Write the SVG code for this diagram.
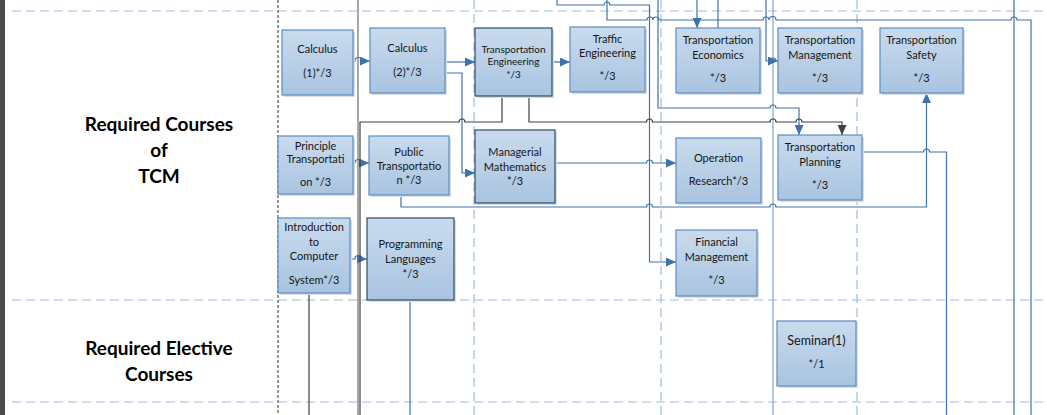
<svg xmlns="http://www.w3.org/2000/svg" width="1047" height="415" viewBox="0 0 1047 415">
<defs>
<linearGradient id="g" x1="0" y1="0" x2="0" y2="1">
<stop offset="0" stop-color="#c9dbee"/>
<stop offset="1" stop-color="#a9c4e0"/>
</linearGradient>
<marker id="ab" markerUnits="userSpaceOnUse" markerWidth="11" markerHeight="9" refX="10" refY="4.5" orient="auto">
<path d="M0,0 L10,4.5 L0,9 z" fill="#3f72ad"/>
</marker>
<marker id="ad" markerUnits="userSpaceOnUse" markerWidth="11" markerHeight="9" refX="10" refY="4.5" orient="auto">
<path d="M0,0 L10,4.5 L0,9 z" fill="#404040"/>
</marker>
</defs>
<style>
.lane{stroke:#9dbde0;stroke-width:1.2;stroke-dasharray:9,5;fill:none}
.laned{stroke:#444;stroke-width:1.1;stroke-dasharray:3,2;fill:none}
.box{fill:url(#g);stroke:#5b8cc2;stroke-width:1.2}
.boxd{fill:url(#g);stroke:#2e4c6c;stroke-width:1.2}
.sh{fill:#dadde1}
.t{font-family:Lato,"Open Sans","Liberation Sans",sans-serif;font-size:11px;fill:#151515;text-anchor:middle}
.ts{font-size:10px}
.tl{font-size:12.5px}
.h{font-family:Lato,"Open Sans","Liberation Sans",sans-serif;font-size:19px;font-weight:bold;fill:#000;text-anchor:middle}
.cb{stroke:#3f72ad;stroke-width:1.2;fill:none}
.cd{stroke:#404040;stroke-width:1.2;fill:none}
.cg{stroke:#6e6e6e;stroke-width:1.2;fill:none}
.cl{stroke:#7fa7d3;stroke-width:1.2;fill:none}
</style>
<rect x="0" y="0" width="1047" height="415" fill="#fff"/>
<rect x="0" y="0" width="5" height="415" fill="#4a4a4a"/>
<g id="lanes">
<path class="lane" d="M12,11 H1047 M12,300 H1047 M12,402 H1047"/>
<path class="lane" d="M474,0 V415 M661,0 V415 M857,0 V415"/>
<path class="laned" d="M278,0 V415"/>
</g>
<g id="headings">
<text class="h" x="159" y="130.5">Required Courses</text>
<text class="h" x="159" y="156.5">of</text>
<text class="h" x="159" y="182.5">TCM</text>
<text class="h" x="159" y="354.5">Required Elective</text>
<text class="h" x="159" y="381">Courses</text>
</g>
<g id="connectors">
<path class="cg" d="M358,0 V415"/>
<path class="cl" d="M773,0 V415"/>
<path class="cb" d="M1014,0 V415"/>
<path class="cb" d="M557,0 V5 H604 A3,3 0 0 1 610,5 H649.5 V262 H676" marker-end="url(#ab)"/>
<path class="cb" d="M607,0 V20 H647 A3,3 0 0 1 653,20 A3,3 0 0 1 659,20 H763 A3,3 0 0 1 769,20 A3,3 0 0 1 776,20 H1011 A3,3 0 0 1 1017,20 H1031 V415"/>
<path class="cb" d="M697,0 V28" marker-end="url(#ab)"/>
<path class="cb" d="M718,0 V28"/>
<path class="cb" d="M766,0 V61 H770 A3,3 0 0 1 776,61 H778" marker-end="url(#ab)"/>
<path class="cb" d="M658,0 V108 H770 A3,3 0 0 1 776,108 H799 V135" marker-end="url(#ab)"/>
<path class="cb" d="M353,61 H355 A3.5,3.5 0 0 1 362,61 H370" marker-end="url(#ab)"/>
<path class="cb" d="M445,62 H475" marker-end="url(#ab)"/>
<path class="cb" d="M445,73 H462 V173 H475" marker-end="url(#ab)"/>
<path class="cb" d="M552,62 H570" marker-end="url(#ab)"/>
<path class="cb" d="M353,163 H355 A3.5,3.5 0 0 1 362,163 H369" marker-end="url(#ab)"/>
<path class="cb" d="M350,259 H355 A3.5,3.5 0 0 1 362,259 H367" marker-end="url(#ab)"/>
<path class="cb" d="M555,163 H646.5 A3,3 0 0 1 652.5,163 H676" marker-end="url(#ab)"/>
<path class="cb" d="M401,195 V207 H646.5 A3,3 0 0 1 652.5,207 H770 A3,3 0 0 1 776,207 H926.5 V93" marker-end="url(#ab)"/>
<path class="cb" d="M862,152 H923.5 A3,3 0 0 1 929.5,152 H946.5 V415"/>
<path class="cb" d="M410,300 V415"/>
<path class="cd" d="M502,96 V122 H465 A3,3 0 0 0 459,122 H360 V415"/>
<path class="cd" d="M529,96 V122 H646.5 A3,3 0 0 1 652.5,122 H770 A3,3 0 0 1 776,122 H796 A3,3 0 0 1 802,122 H842 V135" marker-end="url(#ad)"/>
<path class="cd" d="M309,293 V415"/>
</g>
<g id="calculus1"><rect class="sh" x="284" y="32" width="71" height="65"/><rect class="box" x="282" y="30" width="71" height="65"/><text class="t" x="317.5" y="53">Calculus</text><text class="t" x="317.5" y="77">(1)*/3</text></g>
<g id="calculus2"><rect class="sh" x="372" y="30" width="75" height="65"/><rect class="box" x="370" y="28" width="75" height="65"/><text class="t" x="407.5" y="52">Calculus</text><text class="t" x="407.5" y="76">(2)*/3</text></g>
<g id="transportation-engineering"><rect class="sh" x="477" y="30" width="77" height="68"/><rect class="boxd" x="475" y="28" width="77" height="68"/><text class="t ts" x="513.5" y="52.5">Transportation</text><text class="t ts" x="513.5" y="65">Engineering</text><text class="t ts" x="513.5" y="77.5">*/3</text></g>
<g id="traffic-engineering"><rect class="sh" x="572" y="29" width="75" height="65"/><rect class="box" x="570" y="27" width="75" height="65"/><text class="t" x="607.5" y="43">Traffic</text><text class="t" x="607.5" y="57">Engineering</text><text class="t" x="607.5" y="80">*/3</text></g>
<g id="transportation-economics"><rect class="sh" x="678" y="30" width="84" height="65"/><rect class="box" x="676" y="28" width="84" height="65"/><text class="t" x="718" y="44">Transportation</text><text class="t" x="718" y="59">Economics</text><text class="t" x="718" y="82">*/3</text></g>
<g id="transportation-management"><rect class="sh" x="780" y="30" width="84" height="65"/><rect class="box" x="778" y="28" width="84" height="65"/><text class="t" x="820" y="44">Transportation</text><text class="t" x="820" y="59">Management</text><text class="t" x="820" y="82">*/3</text></g>
<g id="transportation-safety"><rect class="sh" x="882" y="30" width="83" height="65"/><rect class="box" x="880" y="28" width="83" height="65"/><text class="t" x="921.5" y="44">Transportation</text><text class="t" x="921.5" y="59">Safety</text><text class="t" x="921.5" y="82">*/3</text></g>
<g id="principle-transportation"><rect class="sh" x="280" y="138" width="75" height="58"/><rect class="box" x="278" y="136" width="75" height="58"/><text class="t" x="315.5" y="149.5">Principle</text><text class="t" x="315.5" y="163">Transportati</text><text class="t" x="315.5" y="186">on */3</text></g>
<g id="public-transportation"><rect class="sh" x="371" y="138" width="80" height="59"/><rect class="box" x="369" y="136" width="80" height="59"/><text class="t" x="409" y="155.5">Public</text><text class="t" x="409" y="170">Transportatio</text><text class="t" x="409" y="184">n */3</text></g>
<g id="managerial-mathematics"><rect class="sh" x="477" y="132" width="80" height="73"/><rect class="boxd" x="475" y="130" width="80" height="73"/><text class="t" x="515" y="156">Managerial</text><text class="t" x="515" y="171">Mathematics</text><text class="t" x="515" y="185">*/3</text></g>
<g id="operation-research"><rect class="sh" x="678" y="140" width="85" height="65"/><rect class="box" x="676" y="138" width="85" height="65"/><text class="t" x="718.5" y="162">Operation</text><text class="t" x="718.5" y="185">Research*/3</text></g>
<g id="transportation-planning"><rect class="sh" x="780" y="137" width="84" height="65"/><rect class="box" x="778" y="135" width="84" height="65"/><text class="t" x="820" y="151">Transportation</text><text class="t" x="820" y="166">Planning</text><text class="t" x="820" y="188.5">*/3</text></g>
<g id="introduction-computer"><rect class="sh" x="280" y="220" width="72" height="75"/><rect class="box" x="278" y="218" width="72" height="75"/><text class="t" x="314" y="231">Introduction</text><text class="t" x="314" y="246">to</text><text class="t" x="314" y="260">Computer</text><text class="t" x="314" y="284">System*/3</text></g>
<g id="programming-languages"><rect class="sh" x="369" y="220" width="87" height="82"/><rect class="boxd" x="367" y="218" width="87" height="82"/><text class="t" x="410.5" y="248">Programming</text><text class="t" x="410.5" y="263">Languages</text><text class="t" x="410.5" y="278">*/3</text></g>
<g id="financial-management"><rect class="sh" x="678" y="232" width="81" height="66"/><rect class="box" x="676" y="230" width="81" height="66"/><text class="t" x="716.5" y="246">Financial</text><text class="t" x="716.5" y="261">Management</text><text class="t" x="716.5" y="284">*/3</text></g>
<g id="seminar"><rect class="sh" x="779" y="323" width="79" height="65"/><rect class="box" x="777" y="321" width="79" height="65"/><text class="t tl" x="816.5" y="345">Seminar(1)</text><text class="t" x="816.5" y="368">*/1</text></g>
</svg>
